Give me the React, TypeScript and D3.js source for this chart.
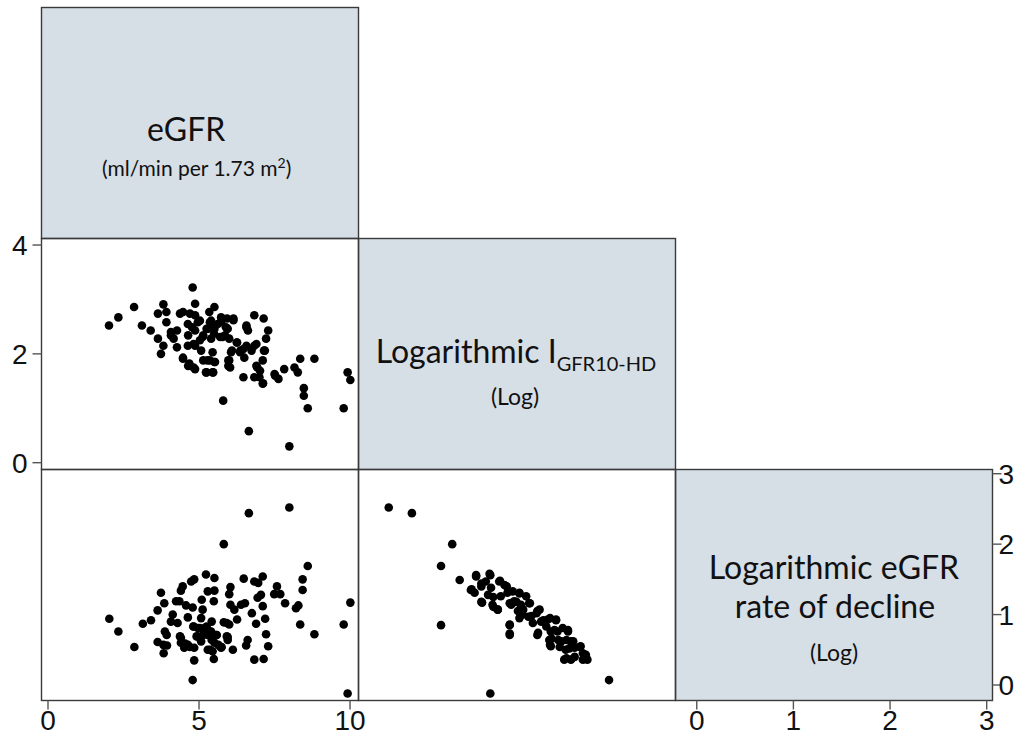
import React from "react";
import * as d3 from "d3";

// ---- data ----
// Panel: eGFR (x) vs Logarithmic IGFR10-HD (y)
const egfrVsIgfr: [number, number][] = [
  [2.02,2.52],[2.33,2.67],[2.85,2.86],[3.11,2.52],[3.40,2.43],[3.82,2.91],[3.92,2.77],[3.64,2.74],[3.92,2.58],[3.64,2.28],
  [3.82,2.15],[3.74,2.00],[4.07,2.40],[4.16,2.28],[4.27,2.43],[4.07,2.34],[4.27,2.12],[4.37,2.74],[4.47,2.77],[4.63,2.55],
  [4.47,1.93],[4.68,1.82],[4.82,1.75],[4.63,2.15],[4.82,2.18],[4.87,2.71],[4.96,2.58],[4.87,2.43],[5.12,2.31],[5.07,2.06],
  [5.28,1.88],[5.23,1.66],[5.45,1.66],[5.51,1.85],[5.45,2.03],[5.34,2.77],[5.51,2.86],[5.40,2.61],[5.51,2.46],[5.30,2.46],
  [5.62,2.55],[5.73,2.67],[5.40,2.28],[5.78,2.31],[5.95,2.46],[6.00,2.28],[6.14,2.62],[5.80,1.14],[6.06,2.03],[6.00,1.88],
  [6.03,1.75],[6.26,2.21],[6.37,2.06],[6.50,1.93],[6.57,2.52],[6.62,2.43],[6.83,2.71],[7.14,2.65],[7.29,2.43],[7.22,2.28],
  [6.90,2.18],[6.74,2.06],[7.18,2.06],[7.11,1.88],[6.93,1.75],[6.47,1.57],[6.83,1.57],[7.11,1.45],[7.00,1.57],[7.50,1.63],
  [7.63,1.54],[7.82,1.72],[8.16,1.75],[8.27,1.66],[8.35,1.91],[8.82,1.91],[8.47,1.37],[8.47,1.23],[8.60,1.00],[6.65,0.58],
  [7.99,0.30],[9.92,1.66],[10.01,1.52],[9.79,1.00],[4.79,3.22],[4.87,2.92],
  [4.70,2.74],[5.03,2.61],[4.77,2.49],[4.64,2.34],[4.87,2.15],[5.03,2.25],[5.14,2.34],[5.25,2.46],[5.36,2.58],[5.51,2.52],
  [5.73,2.58],[5.50,2.37],[5.70,2.31],[5.86,2.34],[5.89,2.49],[5.93,2.65],[6.14,2.65],[6.25,2.21],[6.09,2.06],[6.36,2.03],
  [5.97,1.88],[5.97,1.78],[6.47,2.09],[6.57,2.15],[6.57,2.49],[6.83,2.15],[7.15,2.06],[6.90,1.78],[7.02,1.69],[7.12,1.46],
  [7.52,1.60],[4.47,1.91],[4.64,1.78],[4.87,1.72],[5.14,1.88],[5.36,1.88],[5.53,1.85],[5.25,1.66],[5.47,1.66],
];

// Panel: eGFR (x) vs Logarithmic eGFR rate of decline (y)
const egfrVsDecline: [number, number][] = [
  [6.65,2.44],[7.99,2.52],[5.82,2.00],[8.60,1.69],[8.43,1.50],[8.43,1.35],[10.01,1.17],[9.79,0.86],[8.82,0.72],[8.35,0.86],
  [8.21,1.09],[8.29,1.13],[7.85,1.16],[7.69,1.29],[7.49,1.29],[7.58,1.40],[7.11,1.54],[6.83,1.47],[6.96,1.45],[6.48,1.51],
  [7.05,1.28],[6.94,1.24],[7.11,1.12],[7.19,0.94],[7.22,0.72],[7.29,0.55],[7.14,0.37],[6.83,0.36],[6.61,0.64],[6.56,0.56],
  [6.89,0.87],[6.75,1.02],[6.52,1.16],[6.39,1.14],[6.26,0.93],[6.12,0.50],[5.95,0.68],[6.00,0.86],[5.82,0.89],[6.17,1.07],
  [6.04,1.14],[6.00,1.29],[6.04,1.39],[5.51,1.52],[5.23,1.57],[5.51,1.34],[5.29,1.33],[5.49,1.19],[5.09,1.21],[5.12,1.07],
  [5.07,0.95],[4.74,1.47],[4.84,1.50],[4.46,1.40],[4.40,1.34],[3.74,1.31],[3.85,1.16],[3.63,1.06],[4.24,1.19],[4.35,1.19],
  [4.57,1.13],[4.79,1.10],[4.13,1.00],[4.07,0.90],[4.29,0.88],[4.63,0.96],[4.82,0.83],[4.96,0.81],[5.18,0.81],[5.42,0.90],
  [5.40,0.76],[5.56,0.71],[5.29,0.71],[4.96,0.69],[5.07,0.62],[4.84,0.53],[5.29,0.50],[5.45,0.48],[5.73,0.53],[5.51,0.60],
  [5.95,0.64],[3.87,0.76],[3.63,0.61],[3.94,0.56],[3.83,0.45],[4.40,0.67],[4.40,0.60],[4.51,0.53],[4.63,0.57],[4.84,0.35],
  [5.49,0.37],[4.79,0.07],[9.92,-0.12],[2.03,0.94],[2.33,0.76],[2.86,0.54],[3.14,0.87],[3.41,0.92],
  [4.81,0.83],[5.03,0.81],[5.25,0.83],[5.36,0.76],[5.14,0.71],[4.92,0.69],[5.42,0.64],[5.59,0.71],[5.64,0.57],[5.36,0.50],
  [5.75,0.54],[5.92,0.69],[5.92,0.88],[4.37,0.69],[4.54,0.59],[4.70,0.54],[3.82,0.57],[3.93,0.71],
];

// Panel: Logarithmic IGFR10-HD (x) vs Logarithmic eGFR rate of decline (y)
const igfrVsDecline: [number, number][] = [
  [0.28,2.52],[0.59,2.44],[1.13,2.00],[0.98,1.69],[0.98,0.85],[1.23,1.49],[1.38,1.35],[1.45,1.54],[1.53,1.17],[1.64,-0.12],
  [1.64,1.56],[1.52,1.40],[1.58,1.47],[1.65,1.38],[1.67,1.14],[1.74,1.07],[1.76,1.47],[1.83,1.42],[1.90,0.86],[1.90,0.71],
  [2.27,0.71],[1.92,1.14],[1.78,1.26],[1.87,1.31],[2.03,1.31],[1.96,1.19],[2.05,1.14],[2.16,1.16],[2.07,1.00],[2.19,0.98],
  [2.27,1.05],[2.32,0.90],[2.21,0.88],[2.41,0.93],[2.52,0.93],[2.45,0.76],[2.54,0.76],[2.68,0.76],[2.43,0.64],[2.45,0.55],
  [2.59,0.62],[2.72,0.62],[2.77,0.53],[2.85,0.55],[2.65,0.50],[2.92,0.43],[2.63,0.36],[2.72,0.36],[2.88,0.36],[2.94,0.36],
  [3.23,0.07],[1.43,1.31],[1.61,1.28],[2.01,1.05],[2.12,1.26],
  [1.45,1.56],[1.63,1.58],[1.39,1.36],[1.52,1.44],[1.77,1.48],[1.86,1.40],[1.94,1.33],[2.03,1.30],[1.68,1.25],[1.52,1.18],
  [1.68,1.11],[1.74,1.07],[1.90,1.16],[1.99,1.18],[2.08,1.07],[2.17,1.16],[2.03,0.95],[2.15,0.97],[2.26,1.02],[2.30,1.07],
  [1.90,0.85],[1.90,0.73],[2.28,0.74],[2.35,0.92],[2.44,0.95],[2.52,0.92],[2.39,0.83],[2.50,0.78],[2.61,0.81],[2.68,0.78],
  [2.46,0.66],[2.55,0.64],[2.66,0.64],[2.75,0.62],[2.44,0.57],[2.57,0.54],[2.70,0.52],[2.84,0.54],[2.88,0.45],[2.66,0.38],
  [2.77,0.40],[2.90,0.38],
];

const egfrTicks = [0, 5, 10];
const igfrTicks = [0, 2, 4];
const declineTicks = [0, 1, 2, 3];

const egfrDomain: [number, number] = [-0.215, 10.28];
const igfrDomain: [number, number] = [-0.125, 4.12];
const declineDomain: [number, number] = [-0.22, 3.06];

// ---- layout ----
const W = 1023;
const H = 744;
const left = 41.5;
const top = 7.5;
const cellW = 317;
const cellH = 231;
const colX = [0, 1, 2, 3].map((i) => left + i * cellW);
const rowY = [0, 1, 2, 3].map((i) => top + i * cellH);

const FILL = "#d6dee6";
const BORDER = "#3a3a3a";
const TICK = "#555";
const AXIS_FONT = "'Liberation Sans', Arial, sans-serif";
const LABEL_FONT = "Lato, 'Open Sans', sans-serif";
const R = 4.3;
const TICK_LEN = 9;

export default function App() {
  const xEgfr = d3.scaleLinear().domain(egfrDomain).range([colX[0], colX[1]]);
  const xIgfr = d3.scaleLinear().domain(igfrDomain).range([colX[1], colX[2]]);
  const xDecl = d3.scaleLinear().domain(declineDomain).range([colX[2], colX[3]]);
  const yIgfr = d3.scaleLinear().domain(igfrDomain).range([rowY[2], rowY[1]]);
  const yDecl = d3.scaleLinear().domain(declineDomain).range([rowY[3], rowY[2]]);

  const panels = [
    { data: egfrVsIgfr, x: xEgfr, y: yIgfr, key: "a" },
    { data: egfrVsDecline, x: xEgfr, y: yDecl, key: "b" },
    { data: igfrVsDecline, x: xIgfr, y: yDecl, key: "c" },
  ];

  const cells = [
    { c: 0, r: 0, fill: FILL },
    { c: 0, r: 1, fill: "#fff" },
    { c: 1, r: 1, fill: FILL },
    { c: 0, r: 2, fill: "#fff" },
    { c: 1, r: 2, fill: "#fff" },
    { c: 2, r: 2, fill: FILL },
  ];

  const bottomBaseline = 730;

  return (
    <svg
      width={W}
      height={H}
      viewBox={`0 0 ${W} ${H}`}
      style={{ position: "absolute", left: 0, top: 0, background: "#fff" }}
    >
      {cells.map((cell) => (
        <rect
          key={`${cell.c}-${cell.r}`}
          x={colX[cell.c]}
          y={rowY[cell.r]}
          width={cellW}
          height={cellH}
          fill={cell.fill}
        />
      ))}

      {/* points */}
      {panels.map((p) => (
        <g key={p.key}>
          {p.data.map((d, i) => (
            <circle key={i} cx={p.x(d[0])} cy={p.y(d[1])} r={R} fill="#000" />
          ))}
        </g>
      ))}

      {/* cell borders */}
      {cells.map((cell) => (
        <rect
          key={`b-${cell.c}-${cell.r}`}
          x={colX[cell.c]}
          y={rowY[cell.r]}
          width={cellW}
          height={cellH}
          fill="none"
          stroke={BORDER}
          strokeWidth={1.4}
        />
      ))}

      <g fontFamily={AXIS_FONT} fontSize={28} fill="#111">
        {/* left axis: IGFR */}
        {igfrTicks.map((t) => (
          <g key={`l${t}`}>
            <line x1={colX[0] - TICK_LEN} x2={colX[0]} y1={yIgfr(t)} y2={yIgfr(t)} stroke={TICK} strokeWidth={1.4} />
            <text x={colX[0] - 14} y={yIgfr(t)} dy="0.36em" textAnchor="end">{t}</text>
          </g>
        ))}
        {/* right axis: decline */}
        {declineTicks.map((t) => (
          <g key={`r${t}`}>
            <line x1={colX[3]} x2={colX[3] + TICK_LEN} y1={yDecl(t)} y2={yDecl(t)} stroke={TICK} strokeWidth={1.4} />
            <text x={colX[3] + 6} y={yDecl(t)} dy="0.36em" textAnchor="start">{t}</text>
          </g>
        ))}
        {/* bottom axis: eGFR */}
        {egfrTicks.map((t) => (
          <g key={`be${t}`}>
            <line x1={xEgfr(t)} x2={xEgfr(t)} y1={rowY[3]} y2={rowY[3] + TICK_LEN} stroke={TICK} strokeWidth={1.4} />
            <text x={xEgfr(t)} y={bottomBaseline} textAnchor="middle">{t}</text>
          </g>
        ))}
        {/* bottom axis: decline */}
        {declineTicks.map((t) => (
          <g key={`bd${t}`}>
            <line x1={xDecl(t)} x2={xDecl(t)} y1={rowY[3]} y2={rowY[3] + TICK_LEN} stroke={TICK} strokeWidth={1.4} />
            <text x={xDecl(t)} y={bottomBaseline} textAnchor="middle">{t}</text>
          </g>
        ))}
      </g>

      {/* diagonal labels */}
      <g fontFamily={LABEL_FONT} fill="#111">
        <text x={147} y={141} fontSize={32}>eGFR</text>
        <text x={102} y={176} fontSize={21}>
          (ml/min per 1.73 m<tspan fontSize={14} dy={-8}>2</tspan><tspan dy={8}>)</tspan>
        </text>

        <text x={516} y={363} fontSize={32} textAnchor="middle">
          Logarithmic I<tspan fontSize={20} dy={8}>GFR10-HD</tspan>
        </text>
        <text x={515} y={405} fontSize={23} textAnchor="middle">(Log)</text>

        <text x={834} y={579} fontSize={32} textAnchor="middle">Logarithmic eGFR</text>
        <text x={835} y={618} fontSize={32} textAnchor="middle">rate of decline</text>
        <text x={834} y={661} fontSize={23} textAnchor="middle">(Log)</text>
      </g>
    </svg>
  );
}
